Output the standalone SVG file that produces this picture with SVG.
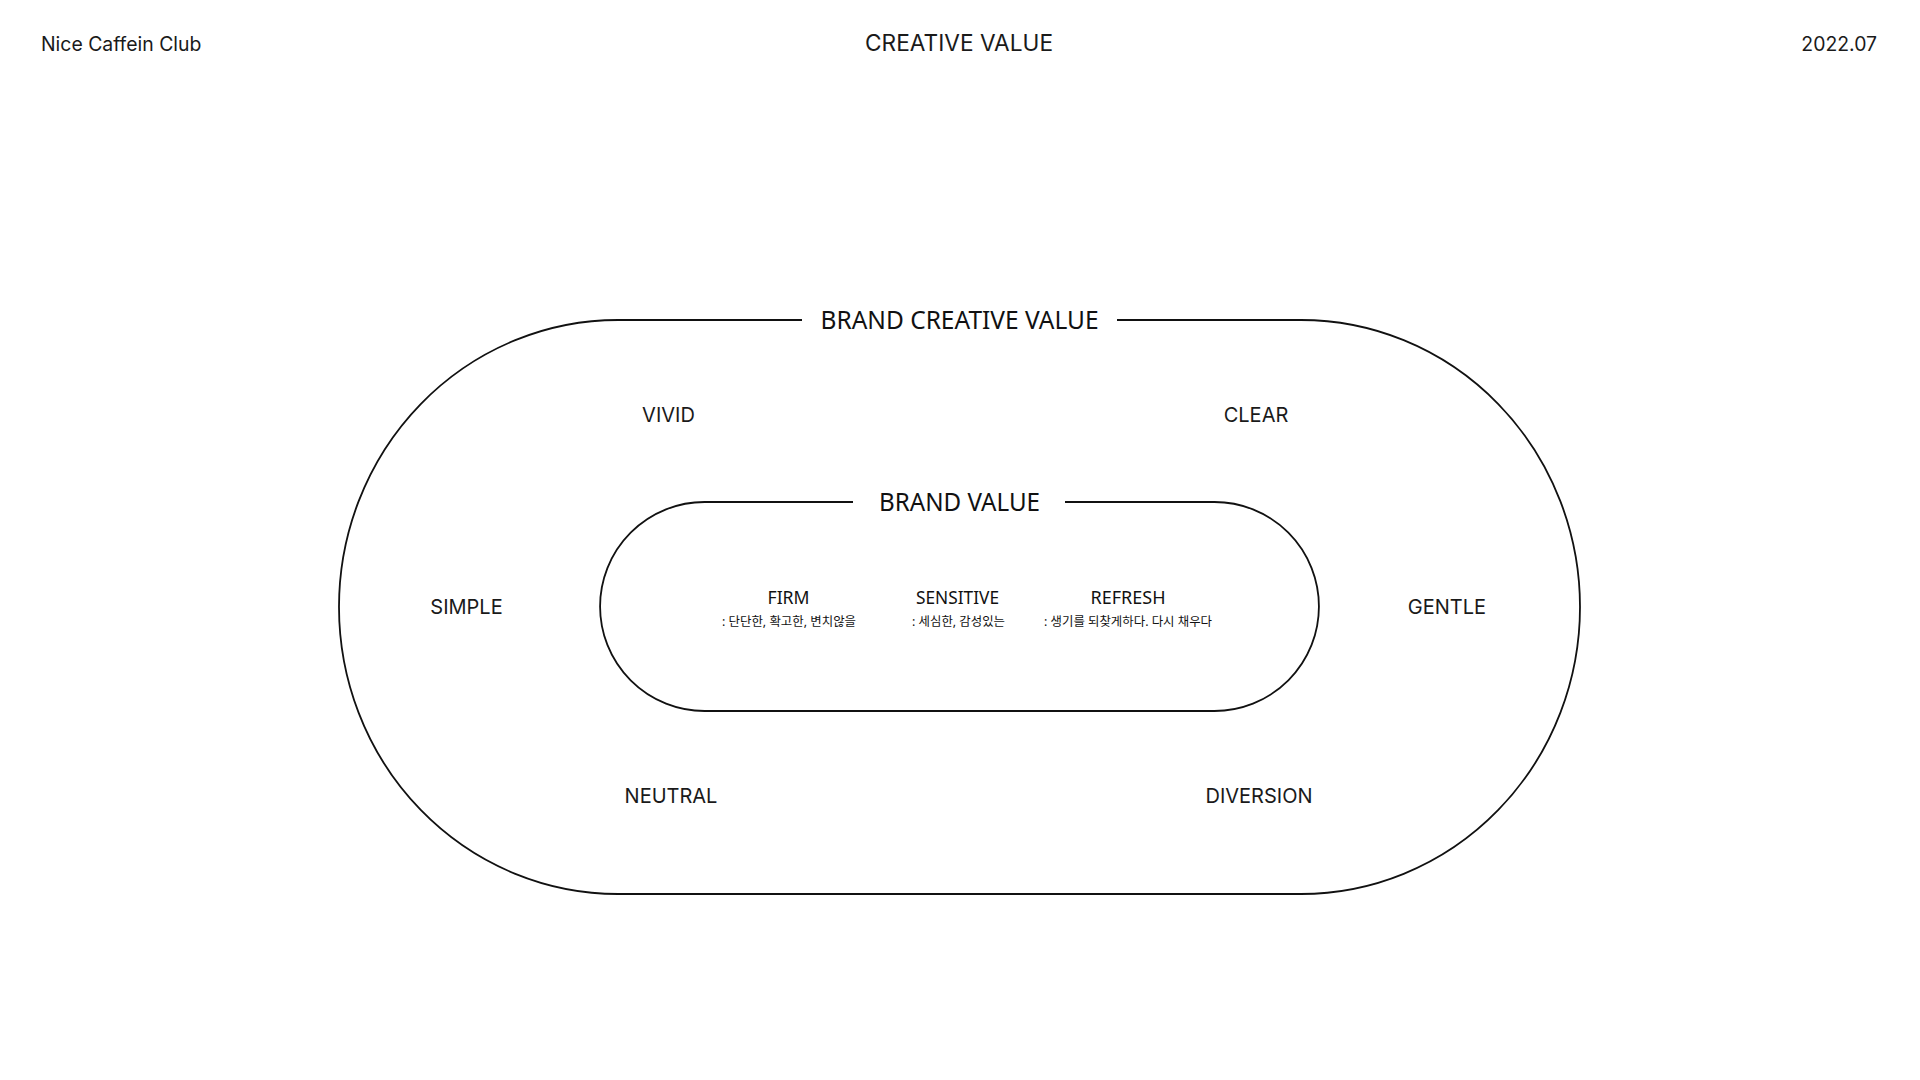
<svg xmlns="http://www.w3.org/2000/svg" width="1920" height="1080" viewBox="0 0 1920 1080">
<style>
.bg{fill:#ffffff}
.frame{fill:none;stroke:#111111;stroke-width:1.8}
.hdr{font-family:Inter,"Liberation Sans",sans-serif;font-size:19.4px;fill:#1a1a1a}
.ttl{font-family:Inter,"Liberation Sans",sans-serif;font-size:22.7px;fill:#1a1a1a;text-anchor:middle}
.sec{font-family:"Noto Sans","Open Sans",sans-serif;font-size:25px;fill:#111111;text-anchor:middle}
.kw{font-family:Inter,"Liberation Sans",sans-serif;font-size:20px;fill:#1a1a1a;text-anchor:middle}
.val{font-family:"Noto Sans","Open Sans",sans-serif;font-size:18px;fill:#111111;text-anchor:middle}
.ko{font-family:"Noto Sans","Noto Sans CJK KR",sans-serif;font-size:12.5px;fill:#111111;text-anchor:middle}
</style>
<rect class="bg" x="0" y="0" width="1920" height="1080"/>
<g id="header">
<text class="hdr" x="41" y="50.5">Nice Caffein Club</text>
<text class="ttl" x="959" y="51">CREATIVE VALUE</text>
<text class="hdr" x="1877" y="50.5" text-anchor="end">2022.07</text>
</g>
<g id="brand-creative-value">
<path class="frame" d="M802 320 L618 320 A279 287 0 0 0 618 894 L1301 894 A279 287 0 0 0 1301 320 L1117 320"/>
<text class="sec" x="959.5" y="329" textLength="278" lengthAdjust="spacingAndGlyphs">BRAND CREATIVE VALUE</text>
</g>
<g id="kw-vivid"><text class="kw" x="668.5" y="422.3">VIVID</text></g>
<g id="kw-clear"><text class="kw" x="1256" y="422.3">CLEAR</text></g>
<g id="kw-simple"><text class="kw" x="466.5" y="614.3">SIMPLE</text></g>
<g id="kw-gentle"><text class="kw" x="1447" y="614.3">GENTLE</text></g>
<g id="kw-neutral"><text class="kw" x="671" y="803.3">NEUTRAL</text></g>
<g id="kw-diversion"><text class="kw" x="1259" y="803.3">DIVERSION</text></g>
<g id="brand-value">
<path class="frame" d="M853 502 L704.5 502 A104.5 104.5 0 0 0 704.5 711 L1214.5 711 A104.5 104.5 0 0 0 1214.5 502 L1065 502"/>
<text class="sec" x="959.5" y="511" textLength="161" lengthAdjust="spacingAndGlyphs">BRAND VALUE</text>
</g>
<g id="val-firm">
<text class="val" x="788.5" y="604" textLength="42" lengthAdjust="spacingAndGlyphs">FIRM</text>
<text class="ko" x="789" y="625.5" textLength="134" lengthAdjust="spacingAndGlyphs">: 단단한, 확고한, 변치않을</text>
</g>
<g id="val-sensitive">
<text class="val" x="957.5" y="604" textLength="83" lengthAdjust="spacingAndGlyphs">SENSITIVE</text>
<text class="ko" x="958.5" y="625.5" textLength="93" lengthAdjust="spacingAndGlyphs">: 세심한, 감성있는</text>
</g>
<g id="val-refresh">
<text class="val" x="1128" y="604" textLength="75" lengthAdjust="spacingAndGlyphs">REFRESH</text>
<text class="ko" x="1128" y="625.5" textLength="168" lengthAdjust="spacingAndGlyphs">: 생기를 되찾게하다. 다시 채우다</text>
</g>
</svg>
